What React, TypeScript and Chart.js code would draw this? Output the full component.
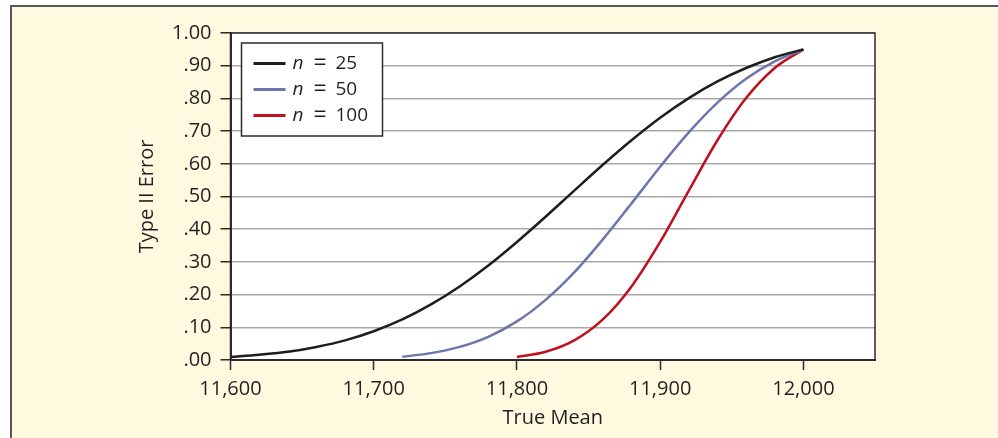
import React, { useEffect, useRef } from 'react';
import { Chart, registerables } from 'chart.js';

Chart.register(...registerables);

// True mean values (x) and Type II error (y) for each sample size
const xN25 = [11600, 11620, 11640, 11660, 11680, 11700, 11720, 11740, 11760, 11780, 11800, 11820, 11840, 11860, 11880, 11900, 11920, 11940, 11960, 11980, 12000];
const yN25 = [0.009, 0.016, 0.025, 0.040, 0.060, 0.088, 0.124, 0.170, 0.225, 0.289, 0.361, 0.438, 0.518, 0.597, 0.672, 0.741, 0.801, 0.852, 0.893, 0.926, 0.950];

const xN50 = [11720, 11740, 11760, 11780, 11800, 11820, 11840, 11860, 11880, 11900, 11920, 11940, 11960, 11980, 12000];
const yN50 = [0.010, 0.021, 0.040, 0.071, 0.118, 0.184, 0.268, 0.369, 0.479, 0.591, 0.696, 0.787, 0.860, 0.913, 0.950];

const xN100 = [11800, 11820, 11840, 11860, 11880, 11900, 11920, 11940, 11960, 11980, 12000];
const yN100 = [0.009, 0.025, 0.060, 0.124, 0.225, 0.361, 0.518, 0.672, 0.801, 0.893, 0.950];

const seriesNames = ['25', '50', '100'];
const seriesColors = ['#1e1e1e', '#6b76ad', '#c0101e'];

const xTickValues = [11600, 11700, 11800, 11900, 12000];
const xTickLabels = ['11,600', '11,700', '11,800', '11,900', '12,000'];
const yTickValues = [0, 0.1, 0.2, 0.3, 0.4, 0.5, 0.6, 0.7, 0.8, 0.9, 1.0];
const yTickLabels = ['.00', '.10', '.20', '.30', '.40', '.50', '.60', '.70', '.80', '.90', '1.00'];

const xTitle = 'True Mean';
const yTitle = 'Type II Error';

const FONT = "'Open Sans', 'Noto Sans', sans-serif";
const TEXT = '#231f20';

const toPoints = (xs: number[], ys: number[]) => xs.map((x, i) => ({ x, y: ys[i] }));

const plotPlugin = {
  id: 'plotDecor',
  beforeDraw(chart: any) {
    const { ctx, chartArea: a } = chart;
    ctx.save();
    ctx.fillStyle = '#ffffff';
    ctx.fillRect(a.left, a.top, a.right - a.left, a.bottom - a.top);
    ctx.restore();
  },
  afterDraw(chart: any) {
    const { ctx, chartArea: a } = chart;
    ctx.save();
    ctx.strokeStyle = '#2b2b2b';
    ctx.lineWidth = 1.5;
    ctx.strokeRect(a.left, a.top, a.right - a.left, a.bottom - a.top);

    // legend
    const lx = a.left + 11;
    const ly = a.top + 10;
    const lw = 141;
    const lh = 93;
    ctx.fillStyle = '#ffffff';
    ctx.fillRect(lx, ly, lw, lh);
    ctx.strokeStyle = '#2b2b2b';
    ctx.lineWidth = 1.5;
    ctx.strokeRect(lx, ly, lw, lh);
    seriesNames.forEach((name, i) => {
      const cy = ly + 20.5 + i * 26;
      ctx.strokeStyle = seriesColors[i];
      ctx.lineWidth = 3;
      ctx.beginPath();
      ctx.moveTo(lx + 12, cy);
      ctx.lineTo(lx + 44, cy);
      ctx.stroke();
      ctx.fillStyle = TEXT;
      ctx.textBaseline = 'middle';
      ctx.textAlign = 'left';
      ctx.font = `italic 19px ${FONT}`;
      const tx = lx + 51;
      ctx.fillText('n', tx, cy);
      ctx.font = `23px ${FONT}`;
      ctx.fillText('=', tx + 21, cy);
      ctx.font = `19px ${FONT}`;
      ctx.fillText(name, tx + 43, cy);
    });
    ctx.restore();
  },
};

export default function App() {
  const ref = useRef<HTMLCanvasElement | null>(null);

  useEffect(() => {
    if (!ref.current) return;
    const datasets = [
      toPoints(xN25, yN25),
      toPoints(xN50, yN50),
      toPoints(xN100, yN100),
    ].map((data, i) => ({
      label: 'n = ' + seriesNames[i],
      data,
      borderColor: seriesColors[i],
      backgroundColor: seriesColors[i],
      borderWidth: 2.5,
      pointRadius: 0,
      fill: false,
      cubicInterpolationMode: 'monotone' as const,
    }));

    const chart = new Chart(ref.current, {
      type: 'line',
      data: { datasets },
      plugins: [plotPlugin],
      options: {
        animation: false,
        responsive: false,
        maintainAspectRatio: false,
        layout: { padding: { left: 0, top: 33, right: 123, bottom: 0 } },
        plugins: { legend: { display: false }, tooltip: { enabled: false } },
        scales: {
          x: {
            type: 'linear',
            min: 11600,
            max: 12050,
            afterBuildTicks: (axis: any) => {
              axis.ticks = xTickValues.map((v) => ({ value: v }));
            },
            afterFit: (axis: any) => {
              axis.height = 78;
            },
            ticks: {
              autoSkip: false,
              maxRotation: 0,
              padding: 7,
              color: TEXT,
              font: { family: FONT, size: 20 },
              callback: (_v: any, i: number) => xTickLabels[i],
            },
            grid: {
              drawOnChartArea: false,
              drawTicks: true,
              tickLength: 10,
              tickColor: '#2b2b2b',
              tickWidth: 1.5,
            },
            border: { display: true, color: '#2b2b2b', width: 2 },
            title: {
              display: true,
              text: xTitle,
              color: TEXT,
              font: { family: FONT, size: 20 },
              padding: { top: 0, bottom: 8 },
            },
          },
          y: {
            type: 'linear',
            min: 0,
            max: 1,
            afterBuildTicks: (axis: any) => {
              axis.ticks = yTickValues.map((v) => ({ value: v }));
            },
            afterFit: (axis: any) => {
              axis.width = 230.5;
            },
            ticks: {
              autoSkip: false,
              padding: 9,
              color: TEXT,
              font: { family: FONT, size: 20 },
              callback: (_v: any, i: number) => yTickLabels[i],
            },
            grid: {
              color: '#a8a8a8',
              lineWidth: 1.5,
              drawTicks: true,
              tickLength: 10,
              tickColor: '#2b2b2b',
              tickWidth: 1.5,
            },
            border: { display: true, color: '#2b2b2b', width: 2 },
            title: {
              display: true,
              text: yTitle,
              color: TEXT,
              font: { family: FONT, size: 20 },
              padding: { top: 135, bottom: 0 },
            },
          },
        },
      },
    });
    return () => chart.destroy();
  }, []);

  return (
    <div style={{ position: 'fixed', left: 0, top: 0, width: 998, height: 438, overflow: 'hidden', background: '#ffffff' }}>
      <div
        style={{
          position: 'absolute',
          left: 10,
          top: 5,
          width: 1010,
          height: 460,
          background: '#fffadf',
          border: '2px solid #58595b',
          boxSizing: 'border-box',
        }}
      />
      <canvas ref={ref} width={998} height={438} style={{ position: 'absolute', left: 0, top: 0, display: 'block' }} />
    </div>
  );
}
